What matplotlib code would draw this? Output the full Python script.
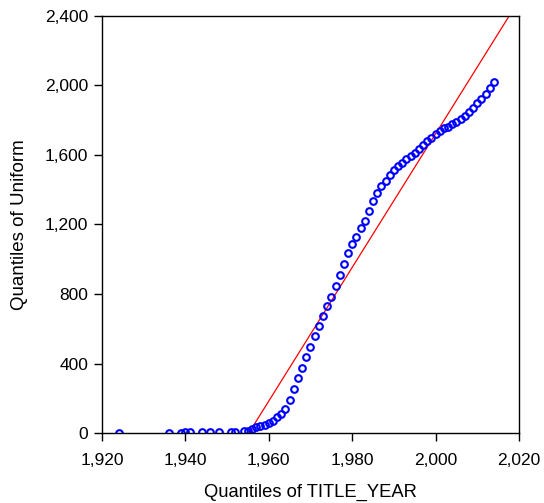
import numpy as np
import matplotlib
matplotlib.use('Agg')
import matplotlib.pyplot as plt
from matplotlib.ticker import FuncFormatter

plt.rcParams['font.family'] = ['Liberation Sans', 'DejaVu Sans']

# quantile points
years = [1924, 1936, 1939, 1940, 1941, 1944, 1946, 1948, 1951, 1952, 1954,
         1955, 1956, 1957, 1958, 1959, 1960, 1961, 1962, 1963, 1964, 1965,
         1966, 1967, 1968, 1969, 1970, 1971, 1972, 1973, 1974, 1975, 1976,
         1977, 1978, 1979, 1980, 1981, 1982, 1983, 1984, 1985, 1986, 1987,
         1988, 1989, 1990, 1991, 1992, 1993, 1994, 1995, 1996, 1997, 1998,
         1999, 2000, 2001, 2002, 2003, 2004, 2005, 2006, 2007, 2008, 2009,
         2010, 2011, 2012, 2013, 2014]
uniform_q = [2, 3, 3, 4, 4, 4, 5, 5, 7, 8, 10,
             14, 21, 33, 40, 48, 59, 71, 90, 107, 138, 190,
             251, 318, 372, 439, 494, 558, 615, 671, 728, 784, 843,
             908, 973, 1036, 1086, 1128, 1177, 1220, 1275, 1335, 1378, 1420,
             1449, 1483, 1512, 1535, 1554, 1573, 1592, 1611, 1633, 1654, 1677,
             1698, 1719, 1738, 1752, 1761, 1775, 1790, 1805, 1824, 1847, 1867,
             1895, 1920, 1949, 1985, 2016]

# reference line: y = slope * (x - x0)
ref_slope = 38.4
ref_x0 = 1955.2

fig = plt.figure(figsize=(5.44, 5.03), dpi=100)
ax = fig.add_axes([0.1875, 0.139, 0.7665, 0.83])

xx = np.array([1920, 2020])
ax.plot(xx, ref_slope * (xx - ref_x0), color='red', lw=0.9)
ax.plot(years, uniform_q, 'o', mfc='none', mec='blue', ms=4.8, mew=1.5)

ax.set_xlim(1920, 2020)
ax.set_ylim(0, 2400)
ax.set_xticks(np.arange(1920, 2021, 20))
ax.set_yticks(np.arange(0, 2401, 400))
fmt = FuncFormatter(lambda v, p: '{:,.0f}'.format(v))
ax.xaxis.set_major_formatter(fmt)
ax.yaxis.set_major_formatter(fmt)
ax.tick_params(direction='out', length=6, width=1, labelsize=12.5)
ax.tick_params(axis='x', pad=8)
ax.tick_params(axis='y', pad=4)
for s in ax.spines.values():
    s.set_linewidth(1)
ax.set_xlabel('Quantiles of TITLE_YEAR', fontsize=13.2, labelpad=12)
ax.set_ylabel('Quantiles of Uniform', fontsize=13.5, labelpad=12)

plt.savefig('out.png', dpi=100)
